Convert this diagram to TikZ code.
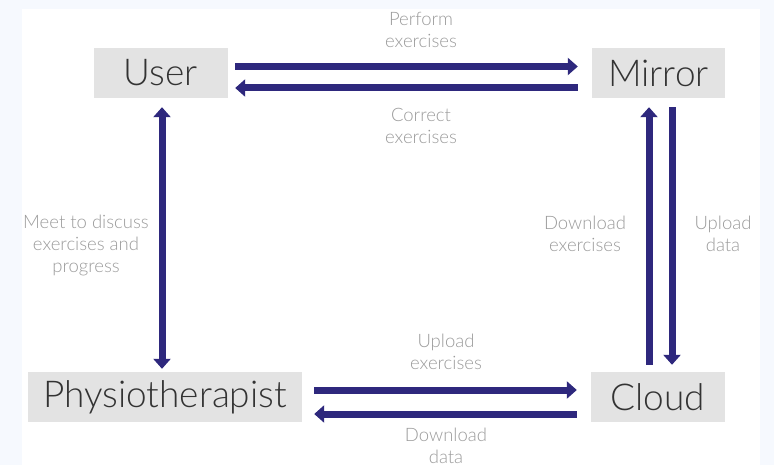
\documentclass[tikz,border=0pt]{standalone}
\usepackage{fontspec}
\setmainfont{Lato}[UprightFont=* Light]
\usepackage{xcolor}
\usepackage{tikz}
\usetikzlibrary{arrows.meta,positioning,calc}
\definecolor{flowblue}{RGB}{46,40,125}
\definecolor{boxgray}{HTML}{E3E3E3}
\definecolor{boxtext}{HTML}{333333}
\definecolor{notegray}{HTML}{9B9B9B}
\definecolor{bgblue}{HTML}{F6F9FE}

\begin{document}
\begin{tikzpicture}[x=1pt, y=-1pt, >={Triangle[length=10pt,width=17pt]},
    box/.style={fill=boxgray, text=boxtext, inner sep=0pt, minimum height=50pt,
      font=\fontsize{37}{42}\selectfont},
    flow/.style={->, line width=7pt, draw=flowblue},
    note/.style={align=center, text=notegray, font=\fontsize{18.5}{22}\selectfont}]
  % page
  \fill[bgblue] (0,0) rectangle (774,465);
  \fill[white] (22,9) rectangle (760,465);
  % boxes
  \node[box, minimum width=134pt] (user) at (161,73) {User};
  \node[box, minimum width=133pt] (mirror) at (658.5,73) {Mirror};
  \node[box, minimum width=274pt] (physio) at (165,397) {Physiotherapist};
  \node[box, minimum width=134pt] (cloud) at (658,397) {Cloud};
  % user <-> mirror
  \draw[flow, shorten <=7pt, shorten >=14pt] ([yshift=6.5pt]user.east) -- ([yshift=6.5pt]mirror.west);
  \draw[flow, shorten <=14pt, shorten >=7pt] ([yshift=-15pt]mirror.west) -- ([yshift=-15pt]user.east);
  \node[note] (perform) at (421,30) {Perform\\exercises};
  \node[note] (correct) at (421,126) {Correct\\exercises};
  % user <-> physiotherapist
  \draw[flow, <->, shorten <=9pt, shorten >=3pt] ([xshift=1pt]user.south) -- ([xshift=1pt]user.south |- physio.north);
  \node[note] (meet) at (86,245) {Meet to discuss\\exercises and\\progress};
  % mirror <-> cloud
  \draw[flow, shorten <=7pt, shorten >=9pt] ([xshift=-9pt]cloud.north) -- ([xshift=-9.5pt]mirror.south);
  \draw[flow, shorten <=9pt, shorten >=7pt] ([xshift=13.5pt]mirror.south) -- ([xshift=14pt]cloud.north);
  \node[note] (dlex) at (585,234) {Download\\exercises};
  \node[note] (updata) at (723,234) {Upload\\data};
  % physiotherapist <-> cloud
  \draw[flow, shorten <=12pt, shorten >=14pt] ([yshift=7pt]physio.east) -- ([yshift=7pt]cloud.west);
  \draw[flow, shorten <=14pt, shorten >=12pt] ([yshift=-17pt]cloud.west) -- ([yshift=-17pt]physio.east);
  \node[note] (upex) at (446,352) {Upload\\exercises};
  \node[note] (dldata) at (446,446) {Download\\data};
\end{tikzpicture}
\end{document}
